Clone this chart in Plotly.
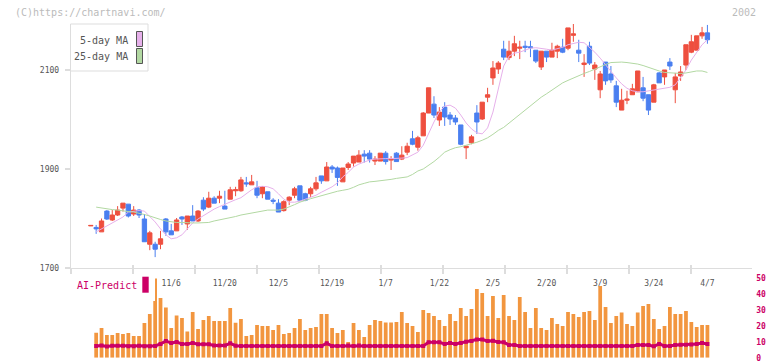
import plotly.graph_objects as go

W, H = 772, 361

# ---------------- data ----------------
open_ = [1785, 1782, 1773, 1815, 1797, 1807, 1821, 1829, 1809, 1817,
         1799, 1748, 1748, 1748, 1799, 1775, 1775, 1803, 1789, 1805,
         1795, 1837, 1823, 1841, 1841, 1825, 1839, 1856, 1856, 1872,
         1868, 1862, 1850, 1854, 1837, 1831, 1816, 1837, 1847, 1866,
         1850, 1850, 1860, 1886, 1876, 1904, 1902, 1874, 1903, 1912,
         1914, 1930, 1932, 1916, 1916, 1932, 1918, 1932, 1920, 1934,
         1961, 1944, 1967, 2013, 2031, 1999, 2025, 2009, 2003, 1989,
         1943, 1953, 2013, 2001, 2045, 2084, 2102, 2142, 2125, 2138,
         2144, 2148, 2147, 2140, 2106, 2138, 2126, 2138, 2146, 2144,
         2170, 2140, 2111, 2148, 2102, 2060, 2116, 2092, 2068, 2019,
         2039, 2050, 2056, 2064, 2050, 2035, 2094, 2086, 2116, 2060,
         2088, 2110, 2136, 2140, 2169, 2175]
high = [1786, 1787, 1800, 1817, 1817, 1825, 1831, 1829, 1825, 1819,
        1809, 1775, 1753, 1775, 1801, 1789, 1801, 1805, 1805, 1827,
        1817, 1843, 1854, 1845, 1856, 1856, 1864, 1864, 1884, 1884,
        1888, 1876, 1864, 1854, 1841, 1839, 1837, 1845, 1864, 1866,
        1852, 1864, 1884, 1886, 1914, 1908, 1905, 1902, 1914, 1926,
        1938, 1938, 1938, 1926, 1932, 1936, 1926, 1934, 1946, 1953,
        1977, 1967, 2015, 2064, 2047, 2025, 2035, 2015, 2009, 1989,
        1946, 1969, 2029, 2035, 2064, 2118, 2118, 2159, 2159, 2169,
        2159, 2159, 2159, 2140, 2138, 2138, 2155, 2151, 2163, 2185,
        2193, 2161, 2132, 2157, 2116, 2098, 2116, 2108, 2078, 2062,
        2058, 2072, 2098, 2086, 2050, 2072, 2096, 2100, 2124, 2094,
        2108, 2151, 2171, 2169, 2187, 2191]
low = [1785, 1769, 1773, 1797, 1795, 1805, 1814, 1802, 1805, 1801,
       1753, 1736, 1722, 1738, 1765, 1767, 1775, 1787, 1777, 1795,
       1793, 1815, 1821, 1831, 1831, 1819, 1839, 1845, 1854, 1864,
       1868, 1841, 1841, 1839, 1829, 1813, 1814, 1827, 1841, 1835,
       1835, 1843, 1856, 1870, 1876, 1892, 1866, 1874, 1898, 1905,
       1914, 1913, 1913, 1908, 1916, 1909, 1898, 1915, 1918, 1928,
       1948, 1937, 1967, 2013, 2003, 1987, 1987, 1989, 1989, 1948,
       1920, 1950, 1971, 1999, 2035, 2070, 2092, 2120, 2120, 2128,
       2122, 2136, 2126, 2114, 2100, 2116, 2126, 2124, 2134, 2140,
       2157, 2116, 2086, 2110, 2080, 2043, 2070, 2074, 2025, 2019,
       2031, 2050, 2056, 2037, 2009, 2035, 2074, 2070, 2100, 2033,
       2078, 2100, 2134, 2140, 2163, 2153]
close = [1786, 1779, 1795, 1799, 1807, 1817, 1831, 1805, 1817, 1807,
         1753, 1771, 1738, 1759, 1773, 1767, 1797, 1799, 1805, 1795,
         1815, 1819, 1841, 1831, 1845, 1819, 1858, 1858, 1878, 1870,
         1874, 1847, 1864, 1839, 1835, 1813, 1834, 1843, 1860, 1837,
         1837, 1860, 1872, 1876, 1904, 1900, 1883, 1902, 1910, 1926,
         1928, 1926, 1920, 1920, 1932, 1915, 1921, 1915, 1928, 1946,
         1950, 1963, 2013, 2064, 2009, 2015, 2005, 2001, 1995, 1950,
         1946, 1965, 1995, 2035, 2050, 2104, 2114, 2126, 2138, 2153,
         2146, 2146, 2145, 2118, 2138, 2126, 2140, 2148, 2136, 2185,
         2173, 2134, 2114, 2114, 2110, 2092, 2078, 2080, 2035, 2039,
         2041, 2062, 2098, 2043, 2019, 2070, 2074, 2100, 2108, 2086,
         2096, 2151, 2157, 2169, 2175, 2161]
ma5 = [None,
       1773, 1779, 1785, 1791, 1797, 1803, 1813, 1815, 1816, 1815,
       1805, 1793, 1779, 1767, 1759, 1761, 1767, 1779, 1791, 1799,
       1806, 1813, 1819, 1824, 1829, 1834, 1838, 1842, 1850, 1858,
       1864, 1865, 1864, 1860, 1850, 1839, 1833, 1833, 1835, 1839,
       1842, 1847, 1853, 1858, 1864, 1872, 1884, 1893, 1904, 1910,
       1914, 1918, 1920, 1921, 1921, 1921, 1921, 1922, 1923, 1928,
       1934, 1948, 1973, 1995, 2015, 2027, 2029, 2023, 2009, 1993,
       1981, 1973, 1971, 1983, 2015, 2064, 2108, 2128, 2134, 2136,
       2140, 2144, 2145, 2144, 2142, 2140, 2143, 2146, 2151, 2153,
       2156, 2155, 2146, 2136, 2124, 2110, 2098, 2084, 2072, 2063,
       2058, 2056, 2056, 2058, 2060, 2062, 2063, 2065, 2070, 2084,
       2100, 2120, 2136, 2151, 2161]
ma25 = [None,
        1823, 1821, 1819, 1818, 1817, 1815, 1814, 1813, 1811, 1808,
        1805, 1801, 1798, 1795, 1793, 1792, 1792, 1791, 1791, 1791,
        1791, 1792, 1795, 1797, 1800, 1802, 1804, 1807, 1809, 1811,
        1813, 1815, 1817, 1817, 1817, 1819, 1823, 1828, 1833, 1837,
        1840, 1843, 1846, 1850, 1852, 1855, 1857, 1859, 1863, 1868,
        1871, 1874, 1875, 1876, 1878, 1879, 1881, 1882, 1884, 1889,
        1896, 1900, 1907, 1915, 1924, 1934, 1939, 1943, 1945, 1948,
        1950, 1954, 1958, 1963, 1970, 1978, 1984, 1993, 2002, 2011,
        2020, 2028, 2037, 2045, 2052, 2059, 2067, 2074, 2079, 2084,
        2089, 2093, 2097, 2102, 2107, 2111, 2115, 2116, 2116, 2115,
        2114, 2112, 2109, 2105, 2101, 2098, 2095, 2094, 2093, 2093,
        2094, 2096, 2098, 2098, 2095]
volume = [None,
          15.6, 18.6, 14.2, 14.2, 15.4, 14.8, 15.4, 13.6, 13.6, 21.7,
          27.3, 35.4, 37.3, 31.3, 18.6, 26.3, 24.8, 16.3, 28.6, 17.9,
          23.6, 26.1, 22.9, 22.9, 22.9, 31.1, 21.9, 24.2, 13.6, 14.2,
          20.4, 19.8, 19.8, 17.3, 20.4, 14.8, 15.4, 18.6, 24.2, 17.3,
          18.6, 19.2, 27.3, 27.3, 18.6, 15.4, 17.3, 9.8, 21.7, 17.3,
          12.9, 20.4, 23.6, 23.0, 22.0, 22.0, 22.3, 28.6, 21.7, 19.8,
          16.1, 29.8, 27.9, 26.1, 23.6, 19.8, 27.3, 22.9, 31.1, 26.1,
          30.4, 42.9, 40.4, 26.1, 38.6, 24.8, 39.2, 26.1, 23.6, 37.9,
          28.6, 18.6, 31.1, 18.6, 17.3, 24.8, 21.1, 19.8, 28.6, 27.3,
          25.4, 28.6, 29.2, 23.6, 44.8, 31.7, 21.7, 26.1, 28.2, 21.1,
          19.8, 28.2, 32.3, 33.6, 24.2, 17.9, 19.8, 31.7, 27.3, 27.3,
          29.2, 22.3, 19.2, 20.4, 20.4]
ai_predict = [None,
              7.3, 7.6, 7.0, 7.5, 7.5, 7.5, 7.1, 7.1, 7.5, 7.1,
              7.1, 7.3, 8.6, 10.4, 9.2, 9.8, 8.6, 8.6, 9.2, 8.4,
              8.4, 8.4, 7.7, 7.7, 7.7, 9.0, 7.5, 7.3, 7.3, 7.3,
              7.3, 7.3, 7.3, 7.3, 7.3, 7.3, 7.3, 7.3, 7.3, 7.3,
              7.3, 7.3, 7.3, 9.0, 7.3, 7.3, 7.3, 7.7, 7.3, 7.7,
              7.3, 7.3, 7.3, 7.3, 7.3, 7.3, 7.3, 7.3, 7.3, 7.3,
              7.3, 7.3, 9.6, 9.6, 9.6, 8.6, 9.2, 8.6, 9.2, 10.0,
              10.4, 11.3, 11.3, 10.4, 10.6, 9.8, 9.6, 8.0, 7.9, 7.3,
              7.3, 7.3, 7.3, 7.3, 7.3, 7.3, 7.3, 7.3, 7.3, 7.3,
              7.3, 7.3, 7.3, 7.3, 7.3, 7.3, 7.3, 7.3, 7.3, 7.3,
              7.3, 7.9, 7.9, 7.9, 7.1, 8.6, 7.3, 7.3, 7.9, 8.1,
              8.1, 8.3, 8.6, 9.2, 8.6]
date_ticks = [15, 25, 35, 45, 55, 65, 75, 85, 95, 105, 115]
date_labels = ["11/6", "11/20", "12/5", "12/19", "1/7", "1/22",
               "2/5", "2/20", "3/9", "3/24", "4/7"]
price_ticks = [1700, 1900, 2100]
ai_ticks = [0, 10, 20, 30, 40, 50]
marker_pos = [12.16]
marker_val = [49.5]

idx = list(range(len(close)))

# ---------------- styling ----------------
FONT = "DejaVu Sans Mono"
RED = "#ee4f3f"
BLUE = "#4a7ff0"
ORANGE = "#f2963f"
MAGENTA = "#cc0066"
PINK = "#e6b0ea"
GREEN = "#b2d8a2"
AXIS = "#dddddd"
TXT = "#555555"


def px(x):
    return x / W


def py(y):
    return 1 - y / H


X_RANGE = [-3.75, 123.37]
XDOM = [px(70.7), px(752.3)]
GRID_TICK0, GRID_DTICK = -3.75, 11.563

fig = go.Figure()

fig.add_trace(go.Candlestick(
    x=idx, open=open_, high=high, low=low, close=close,
    increasing=dict(line=dict(color=RED, width=1), fillcolor=RED),
    decreasing=dict(line=dict(color=BLUE, width=1), fillcolor=BLUE),
    xaxis="x", yaxis="y", hoverinfo="skip"))
fig.add_trace(go.Scatter(x=idx, y=ma5, mode="lines",
                         line=dict(color=PINK, width=1), xaxis="x", yaxis="y"))
fig.add_trace(go.Scatter(x=idx, y=ma25, mode="lines",
                         line=dict(color=GREEN, width=1), xaxis="x", yaxis="y"))
# invisible helpers so the overlay axes (date labels, inner tick marks) get drawn
for ax in ("x3", "x4"):
    fig.add_trace(go.Scatter(x=date_ticks, y=[price_ticks[0]] * len(date_ticks), mode="markers",
                             marker=dict(opacity=0, size=1), xaxis=ax, yaxis="y",
                             hoverinfo="skip"))

fig.add_trace(go.Bar(x=idx, y=volume, width=0.7, marker=dict(color=ORANGE, line=dict(width=0)),
                     xaxis="x2", yaxis="y2"))
fig.add_trace(go.Bar(x=marker_pos, y=marker_val, width=0.37,
                     marker=dict(color=ORANGE, line=dict(width=0)),
                     xaxis="x2", yaxis="y2"))
fig.add_trace(go.Scatter(x=idx, y=ai_predict, mode="lines+markers",
                         line=dict(color=MAGENTA, width=3),
                         marker=dict(symbol="square", size=4, color=MAGENTA),
                         xaxis="x2", yaxis="y2"))

fig.update_layout(
    width=W, height=H,
    margin=dict(l=0, r=0, t=0, b=0, autoexpand=False),
    paper_bgcolor="white", plot_bgcolor="white",
    showlegend=False,
    font=dict(family=FONT, color=TXT, size=10),
    boxgap=0.2, boxgroupgap=0, barmode="overlay",
    xaxis=dict(domain=XDOM, range=X_RANGE, anchor="y", automargin=False,
               showline=True, linecolor=AXIS, linewidth=1,
               ticks="outside", ticklen=5, tickcolor=AXIS, tickwidth=2,
               tickmode="linear", tick0=GRID_TICK0, dtick=GRID_DTICK,
               showticklabels=False, showgrid=False, zeroline=False,
               rangeslider=dict(visible=False), fixedrange=True),
    xaxis3=dict(overlaying="x", anchor="y", range=X_RANGE, side="bottom", automargin=False,
                tickmode="array", tickvals=date_ticks, ticktext=date_labels,
                ticks="", showline=False, showgrid=False, zeroline=False,
                tickfont=dict(family=FONT, size=8, color=TXT),
                ticklabelstandoff=9),
    xaxis4=dict(overlaying="x", anchor="y", range=X_RANGE, side="bottom", automargin=False,
                tickmode="linear", tick0=GRID_TICK0, dtick=GRID_DTICK,
                ticks="inside", ticklen=3, tickcolor=AXIS, tickwidth=2,
                showticklabels=False, showline=False, showgrid=False, zeroline=False),
    yaxis=dict(domain=[py(268), py(24)], range=[1700, 2192.9], anchor="x", automargin=False,
               showline=True, linecolor=AXIS, linewidth=1,
               ticks="outside", ticklen=5, tickcolor=AXIS, tickwidth=2,
               tickmode="array", tickvals=price_ticks,
               tickfont=dict(family=FONT, size=8, color=TXT),
               ticklabelstandoff=4,
               showgrid=False, zeroline=False),
    xaxis2=dict(domain=XDOM, range=X_RANGE, anchor="y2", visible=False, automargin=False),
    yaxis2=dict(domain=[py(357.7), py(276.9)], range=[0, 50.5], anchor="x2", automargin=False,
                side="right", tickmode="array", tickvals=ai_ticks,
                tickfont=dict(family=FONT, size=8, color=MAGENTA, weight="bold"),
                ticklabeloverflow="allow",
                ticks="", showline=False, showgrid=False, zeroline=False,
                ticklabelstandoff=3),
)

shapes = [
    dict(type="rect", xref="paper", yref="paper", x0=px(70.5), x1=px(148), y0=py(71), y1=py(24),
         line=dict(color=AXIS, width=1), fillcolor="white", layer="above"),
    dict(type="rect", xref="paper", yref="paper", x0=px(136.5), x1=px(142.5), y0=py(46.5), y1=py(31.5),
         line=dict(color=TXT, width=1), fillcolor=PINK, layer="above"),
    dict(type="rect", xref="paper", yref="paper", x0=px(136.5), x1=px(142.5), y0=py(63.5), y1=py(48.5),
         line=dict(color=TXT, width=1), fillcolor=GREEN, layer="above"),
    dict(type="rect", xref="paper", yref="paper", x0=px(142.3), x1=px(148.7), y0=py(292.7), y1=py(276.7),
         line=dict(width=0), fillcolor=MAGENTA, layer="above"),
]
fig.update_layout(shapes=shapes)

annotations = [
    dict(text="(C)https://chartnavi.com/", x=px(13), y=py(12), xref="paper", yref="paper",
         xanchor="left", yanchor="middle", showarrow=False,
         font=dict(family=FONT, size=10, color="#bbbbbb")),
    dict(text="2002", x=px(758), y=py(12), xref="paper", yref="paper",
         xanchor="right", yanchor="middle", showarrow=False,
         font=dict(family=FONT, size=10, color="#bbbbbb")),
    dict(text="5-day MA", x=px(130), y=py(40), xref="paper", yref="paper",
         xanchor="right", yanchor="middle", showarrow=False,
         font=dict(family=FONT, size=10, color=TXT)),
    dict(text="25-day MA", x=px(130), y=py(56.5), xref="paper", yref="paper",
         xanchor="right", yanchor="middle", showarrow=False,
         font=dict(family=FONT, size=10, color=TXT)),
    dict(text="AI-Predict", x=px(75), y=py(285.5), xref="paper", yref="paper",
         xanchor="left", yanchor="middle", showarrow=False,
         font=dict(family=FONT, size=10, color=MAGENTA)),
]
fig.update_layout(annotations=annotations)

fig.write_html("out.html",
               config={"displayModeBar": False, "staticPlot": True},
               post_script="document.body.style.margin='0';document.body.style.padding='0';")
